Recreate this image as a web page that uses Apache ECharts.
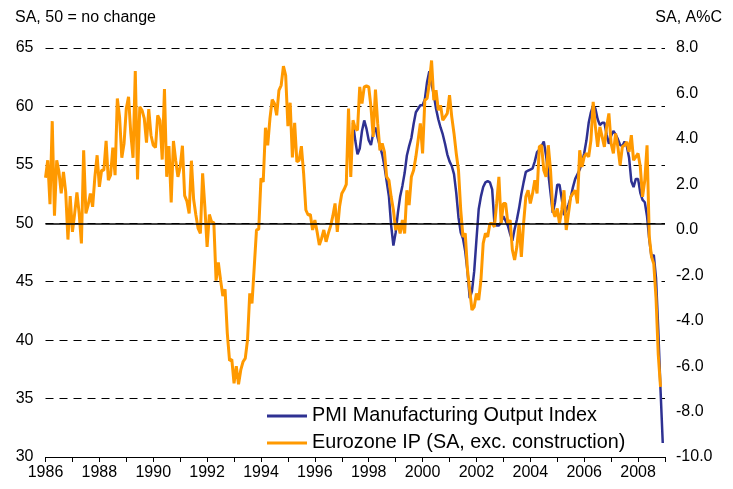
<!DOCTYPE html>
<html>
<head>
<meta charset="utf-8">
<script src="https://cdn.jsdelivr.net/npm/echarts@6/dist/echarts.min.js"></script>
<style>
  html, body { margin: 0; padding: 0; background: #fff; }
  #chart { width: 733px; height: 489px; }
</style>
</head>
<body>
<div id="chart"></div>
<script>
// data, monthly from Jan 1986 (IP, right axis) and Jun 1997 (PMI, left axis)
const ipStart = 1986   // Jan 1986
const pmiStart = 1986 + 137 / 12   // Jun 1997

const ipValues = [
  2.29, 3.06, 1.13, 4.78, 0.62, 3.06, 2.55, 1.60, 2.55, 1.67,
  -0.43, 1.48, -0.09, 0.72, 1.64, 0.72, -0.60, 3.50, 0.72, 1.09,
  1.60, 1.01, 2.33, 3.28, 1.89, 2.62, 2.62, 3.91, 2.18, 2.40,
  3.62, 2.40, 5.78, 4.97, 3.17, 3.80, 5.34, 5.85, 4.24, 3.17,
  6.99, 2.21, 5.41, 5.26, 4.90, 3.84, 5.31, 4.16, 3.72, 3.62,
  5.04, 4.82, 3.09, 6.19, 2.33, 3.68, 1.20, 3.91, 3.06, 2.33,
  2.77, 3.70, 1.50, 1.26, 0.72, 3.04, 1.33, 0.65, 0.06, -0.16,
  2.48, 1.01, -0.75, 0.67, 0.35, 0.31, -2.24, -1.44, -2.21, -2.92,
  -2.62, -4.56, -5.76, -5.70, -6.76, -6.00, -6.80, -6.17, -5.81, -5.66,
  -4.85, -2.80, -3.24, -1.63, -0.01, 0.03, 2.26, 2.11, 4.49, 3.72,
  4.90, 5.73, 5.56, 5.04, 6.14, 6.36, 7.20, 6.80, 4.56, 5.59,
  3.18, 4.71, 2.99, 3.06, 3.68, 2.48, 0.87, 0.65, 0.67, -0.01,
  0.43, -0.09, -0.67, -0.38, -0.01, -0.53, -0.16, 0.16, 0.60, 1.16,
  -0.09, 1.01, 1.60, 1.77, 2.00, 5.34, 2.33, 4.82, 4.46, 4.38,
  6.29, 5.56, 6.29, 6.33, 6.29, 5.41, 4.09, 6.17, 4.68, 3.50,
  3.80, 3.43, 2.33, 2.18, 1.45, 0.87, -0.01, 0.28, -0.16, 0.43,
  -0.16, 1.74, 1.09, 2.33, 2.62, 3.21, 3.94, 4.68, 3.36, 5.70,
  5.78, 6.44, 7.45, 5.70, 6.14, 5.26, 5.48, 4.82, 4.97, 5.12,
  5.92, 4.97, 4.24, 3.36, 2.62, 0.87, -0.31, -0.16, -1.77, -2.65,
  -3.53, -3.39, -2.80, -3.09, -2.21, -0.60, -0.16, -0.31, 0.28, 0.28,
  0.13, 1.16, 2.33, 0.28, 1.16, 1.16, 0.28, 0.43, -0.89, -1.33,
  -0.75, 0.28, -1.19, 0.28, 1.45, 1.74, 1.16, 1.60, 2.18, 1.60,
  3.65, 3.72, 2.62, 2.33, 3.72, 2.62, 0.87, 0.57, 0.94, 0.28,
  0.87, 1.74, -0.01, 0.72, 1.45, 1.60, 1.74, 1.16, 3.50, 2.77,
  3.21, 3.36, 3.21, 3.94, 5.63, 4.53, 3.65, 4.53, 4.09, 3.65,
  4.53, 5.12, 3.80, 3.36, 4.24, 3.65, 2.84, 3.65, 3.72, 3.87,
  3.43, 4.16, 3.06, 3.21, 3.36, 2.77, 1.45, 2.18, 3.72, -0.31,
  -1.19, -1.50, -3.00, -5.50, -6.91
]

const pmiValues = [
  58.6, 57.1, 55.9, 56.4, 57.9, 58.8, 58.1, 57.1, 56.7, 57.7,
  58.2, 57.3, 56.6, 55.9, 54.9, 53.6, 52.3, 49.8, 48.1, 49.2,
  50.9, 52.3, 53.2, 54.3, 55.8, 56.6, 57.3, 58.5, 59.5, 59.8,
  60.1, 60.1, 60.6, 62.1, 63.0, 61.9, 61.0, 59.8, 58.9, 58.2,
  57.6, 56.8, 55.9, 55.3, 54.9, 54.2, 52.6, 50.5, 49.2, 48.7,
  47.6, 45.9, 43.6, 44.2, 45.9, 48.6, 51.2, 52.3, 53.1, 53.5,
  53.6, 53.5, 52.9, 50.0, 49.8, 49.8, 50.1, 50.6, 50.2, 49.8,
  49.1, 48.5, 49.5, 50.3, 51.3, 52.5, 53.5, 54.4, 54.5, 54.6,
  54.7, 55.3, 56.1, 56.3, 56.6, 57.0, 55.8, 54.3, 52.6, 50.9,
  51.8, 53.3, 53.3, 52.1, 50.7, 51.1, 51.6, 52.2, 53.1, 53.8,
  54.2, 54.6, 55.2, 56.0, 57.1, 58.6, 59.5, 60.1, 59.8, 58.9,
  58.4, 58.6, 58.6, 57.6, 56.8, 57.5, 57.9, 57.6, 57.2, 56.7,
  56.6, 57.0, 56.6, 55.6, 53.6, 53.1, 53.8, 53.8, 52.6, 52.0,
  51.8, 50.6, 48.6, 47.1, 47.3, 45.3, 40.9, 35.8, 31.2
]

const pmiName = 'PMI Manufacturing Output Index'
const ipName = 'Eurozone IP (SA, exc. construction)'

function monthly(start, values) {
  return values.map((v, i) => [start + i / 12, v])
}

const chart = echarts.init(document.getElementById('chart'))

const font = 'Liberation Sans, Arial, sans-serif'

chart.setOption({
  animation: false,
  backgroundColor: '#fff',
  textStyle: { fontFamily: font, color: '#000' },
  title: [
    { text: 'SA, 50 = no change', left: 10, top: 5,
      textStyle: { fontSize: 16, fontWeight: 'normal', color: '#000', fontFamily: font } },
    { text: 'SA, A%C', right: 6, top: 5,
      textStyle: { fontSize: 16, fontWeight: 'normal', color: '#000', fontFamily: font } }
  ],
  legend: {
    orient: 'vertical',
    left: 262,
    top: 400,
    icon: 'rect',
    itemWidth: 40,
    itemHeight: 3,
    itemGap: 5,
    data: [pmiName, ipName],
    textStyle: { fontSize: 19.8, color: '#000', lineHeight: 22, fontFamily: font }
  },
  grid: { left: 45.5, right: 68, top: 48, bottom: 32, containLabel: false },
  xAxis: {
    type: 'value',
    min: 1986,
    max: 2009,
    interval: 1,
    axisLine: { onZero: false, lineStyle: { color: '#000', width: 1 } },
    axisTick: { show: true, length: 5, lineStyle: { color: '#000' } },
    axisLabel: {
      fontSize: 16, color: '#000', margin: 8, fontFamily: font,
      formatter: v => (v % 2 === 0 ? String(v) : '')
    },
    splitLine: { show: false }
  },
  yAxis: [
    {
      type: 'value',
      min: 30,
      max: 65,
      interval: 5,
      position: 'left',
      axisLine: { show: false },
      axisTick: { show: false },
      axisLabel: { fontSize: 16, color: '#000', margin: 12, fontFamily: font },
      splitLine: { lineStyle: { color: '#000', width: 1, type: [8, 6] } }
    },
    {
      type: 'value',
      min: -10,
      max: 8,
      interval: 2,
      position: 'right',
      axisLine: { show: false },
      axisTick: { show: false },
      axisLabel: { fontSize: 16, color: '#000', margin: 11, fontFamily: font,
        formatter: v => v.toFixed(1) },
      splitLine: { show: false }
    }
  ],
  series: [
    {
      name: pmiName,
      type: 'line',
      yAxisIndex: 0,
      data: monthly(pmiStart, pmiValues),
      showSymbol: false,
      symbol: 'none',
      itemStyle: { color: '#2e3192' },
      lineStyle: { color: '#2e3192', width: 2.5 },
      markLine: {
        silent: true,
        symbol: 'none',
        label: { show: false },
        lineStyle: { color: '#000', width: 1.5, type: 'solid' },
        data: [{ yAxis: 50 }]
      }
    },
    {
      name: ipName,
      type: 'line',
      yAxisIndex: 1,
      data: monthly(ipStart, ipValues),
      showSymbol: false,
      symbol: 'none',
      itemStyle: { color: '#ff9900' },
      lineStyle: { color: '#ff9900', width: 3 }
    }
  ]
})
</script>
</body>
</html>
